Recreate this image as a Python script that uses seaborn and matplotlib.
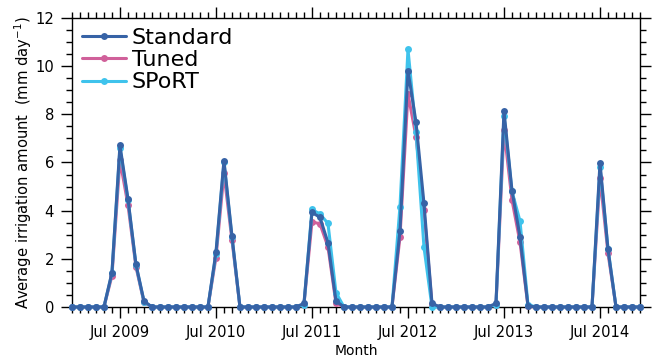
import numpy as np
import pandas as pd
import matplotlib
matplotlib.use("Agg")
import matplotlib.pyplot as plt
import seaborn as sns
from matplotlib.ticker import MultipleLocator, FixedLocator

# Monthly values Jan 2009 - Dec 2014
standard = (
    [0, 0, 0, 0, 0, 1.43, 6.71, 4.5, 1.77, 0.25, 0, 0] +
    [0, 0, 0, 0, 0, 0, 2.27, 6.08, 2.95, 0, 0, 0] +
    [0, 0, 0, 0, 0, 0.15, 3.93, 3.72, 2.67, 0.25, 0, 0] +
    [0, 0, 0, 0, 0, 3.17, 9.81, 7.68, 4.3, 0.15, 0, 0] +
    [0, 0, 0, 0, 0, 0.15, 8.14, 4.83, 2.92, 0.05, 0, 0] +
    [0, 0, 0, 0, 0, 0, 5.99, 2.39, 0, 0, 0, 0]
)
tuned = (
    [0, 0, 0, 0, 0, 1.29, 6.1, 4.24, 1.67, 0.2, 0, 0] +
    [0, 0, 0, 0, 0, 0, 2.05, 5.55, 2.78, 0, 0, 0] +
    [0, 0, 0, 0, 0, 0.1, 3.54, 3.45, 2.5, 0.15, 0, 0] +
    [0, 0, 0, 0, 0, 2.9, 8.85, 7.07, 4.03, 0.1, 0, 0] +
    [0, 0, 0, 0, 0, 0.1, 7.35, 4.44, 2.69, 0.03, 0, 0] +
    [0, 0, 0, 0, 0, 0, 5.37, 2.23, 0, 0, 0, 0]
)
sport = (
    [0, 0, 0, 0, 0, 1.4, 6.6, 4.45, 1.75, 0.22, 0, 0] +
    [0, 0, 0, 0, 0, 0, 2.2, 6.0, 2.9, 0, 0, 0] +
    [0, 0, 0, 0, 0, 0.1, 4.05, 3.86, 3.47, 0.6, 0, 0] +
    [0, 0, 0, 0, 0, 4.17, 10.7, 7.28, 2.48, 0, 0, 0] +
    [0, 0, 0, 0, 0, 0.1, 7.93, 4.8, 3.57, 0.1, 0, 0] +
    [0, 0, 0, 0, 0, 0, 5.8, 2.42, 0, 0, 0, 0]
)
tick_labels = ["Jul 2009", "Jul 2010", "Jul 2011", "Jul 2012", "Jul 2013", "Jul 2014"]
series_names = ["Standard", "Tuned", "SPoRT"]
colors = {"Standard": "#3763a6", "Tuned": "#d0609a", "SPoRT": "#3fc3ec"}

months = np.arange(len(standard))
df = pd.DataFrame({
    "month": np.tile(months, 3),
    "value": standard + tuned + sport,
    "series": np.repeat(series_names, len(months)),
})

sns.set_style("ticks")
plt.rcParams["font.family"] = ["DejaVu Sans"]
for k in ["text.color", "axes.labelcolor", "xtick.color", "ytick.color", "axes.edgecolor"]:
    plt.rcParams[k] = "black"

fig = plt.figure(figsize=(6.54, 3.63), dpi=100)
ax = fig.add_axes([0.110, 0.1543, 0.8686, 0.7961])

for name in ["Tuned", "SPoRT", "Standard"]:
    sub = df[df["series"] == name]
    sns.lineplot(data=sub, x="month", y="value", ax=ax, color=colors[name],
                 marker="o", markersize=5, markeredgewidth=0, linewidth=2.2,
                 label=name, clip_on=False, zorder=3)

ax.set_xlim(0, 71)
ax.set_ylim(0, 12)
ax.xaxis.set_major_locator(FixedLocator([6 + 12 * i for i in range(len(tick_labels))]))
ax.set_xticklabels(tick_labels)
ax.xaxis.set_minor_locator(MultipleLocator(1))
ax.yaxis.set_major_locator(MultipleLocator(2))
ax.yaxis.set_minor_locator(MultipleLocator(0.5))
ax.tick_params(axis="both", which="both", direction="out", top=True, right=True,
               labeltop=False, labelright=False, color="black", width=1)
ax.tick_params(which="major", length=8, labelsize=10.6, pad=5)
ax.tick_params(which="minor", length=4.5)
for s in ax.spines.values():
    s.set_visible(True)
    s.set_color("black")
    s.set_linewidth(1)

ax.set_xlabel("Month", fontsize=10, labelpad=3)
ax.set_ylabel("Average irrigation amount  (mm day$^{-1}$)", fontsize=10.6, labelpad=1)

h, l = ax.get_legend_handles_labels()
order = [l.index(n) for n in series_names]
leg = ax.legend([h[i] for i in order], [l[i] for i in order], loc="upper left",
                frameon=False, handlelength=2.0, handletextpad=0.25,
                labelspacing=0.1, borderaxespad=0.15, borderpad=0.3,
                prop={"family": ["DejaVu Sans"], "size": 16})

fig.savefig("out.png", dpi=100, facecolor="white")
